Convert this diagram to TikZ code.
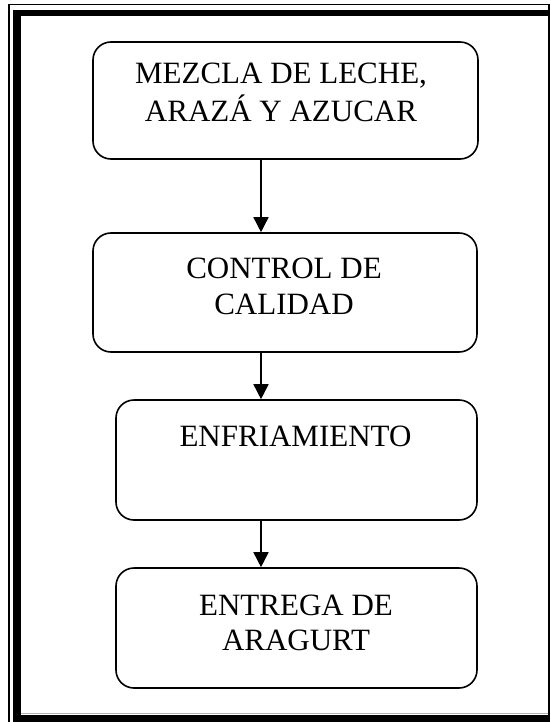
\documentclass[tikz,border=0pt]{standalone}
\usepackage{fontspec}
\setmainfont{Liberation Serif}
\usetikzlibrary{arrows.meta}
\begin{document}
\begin{tikzpicture}[x=1pt,y=-1pt,
  box/.style={draw=black, line width=1.6pt, rounded corners=18pt, inner sep=0pt},
  lbl/.style={anchor=base, inner sep=0pt, font=\fontsize{31}{36}\selectfont},
  arr/.style={draw=black, line width=1.6pt, -{Triangle[width=15pt,length=15pt]}},
  framefill/.style={fill=black}]
\useasboundingbox (0,0) rectangle (550,722);
% page border
\fill[framefill] (13,10) rectangle (21,722);
\fill[framefill] (13,10) rectangle (550,16.5);
\fill[framefill] (13,715) rectangle (550,722);
\draw[black, line width=1.5pt] (9,722) -- (9,4.5) -- (548.8,4.5) -- (548.8,722);
\draw[gray!60, line width=1pt] (21,713.5) -- (548,713.5);
% boxes
\node[box, minimum width=385pt, minimum height=117pt] (b1) at (285.5,100.5) {};
\node[box, minimum width=384pt, minimum height=119pt] (b2) at (285,292.5) {};
\node[box, minimum width=361pt, minimum height=120pt] (b3) at (296.5,460) {};
\node[box, minimum width=361pt, minimum height=120pt] (b4) at (296.5,628) {};
% texts
\node[lbl] (t1a) at (281,84) {MEZCLA DE LECHE,};
\node[lbl] (t1b) at (281,122) {ARAZÁ Y AZUCAR};
\node[lbl] (t2a) at (284,278) {CONTROL DE};
\node[lbl] (t2b) at (284,314) {CALIDAD};
\node[lbl] (t3a) at (295.5,446) {ENFRIAMIENTO};
\node[lbl] (t4a) at (296,615) {ENTREGA DE};
\node[lbl] (t4b) at (296,650) {ARAGURT};
% arrows
\coordinate (ax) at (261,0);
\draw[arr] (b1.south -| ax) -- (b2.north -| ax);
\draw[arr] (b2.south -| ax) -- (b3.north -| ax);
\draw[arr] (b3.south -| ax) -- (b4.north -| ax);
\end{tikzpicture}
\end{document}
